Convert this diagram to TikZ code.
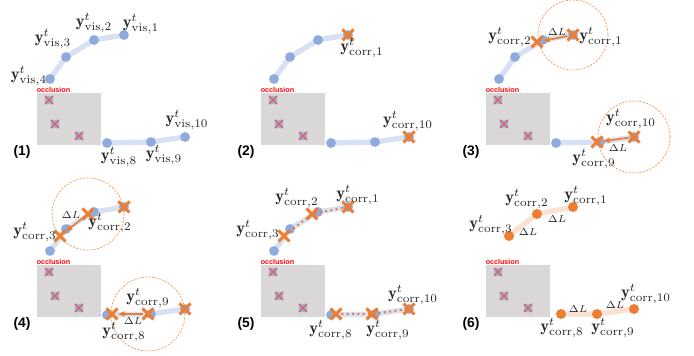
\documentclass[tikz,border=0pt]{standalone}
\usepackage{amsmath}
\usepackage{fontspec}
\setsansfont{Liberation Sans}
\usetikzlibrary{arrows.meta,calc,shapes.misc}
\definecolor{ptblue}{HTML}{8FAADC}
\definecolor{lnblue}{HTML}{D8E1F3}
\definecolor{corange}{HTML}{ED7D31}
\definecolor{lnorange}{HTML}{FBE2D0}
\definecolor{occgray}{HTML}{D9D7D8}
\definecolor{hidred}{HTML}{E05A5A}
\tikzset{%
  vdot/.style={circle,fill=ptblue,inner sep=0pt,minimum size=5.9pt},
  odot/.style={circle,fill=corange,inner sep=0pt,minimum size=6pt},
  hdot/.style={rectangle,rounded corners=1pt,fill=ptblue!75!occgray,inner sep=0pt,minimum size=5pt},
  hcross/.style={cross out,draw=hidred,line width=0.8pt,inner sep=0pt,minimum size=4pt},
  ocross/.style={cross out,draw=corange,line width=1.8pt,inner sep=0pt,minimum size=4.8pt},
  track/.style={draw=lnblue,line width=3.2pt,line cap=round},
  otrack/.style={draw=lnorange,line width=3.2pt,line cap=round},
  arrow/.style={-{Latex[length=1.5mm,width=1.3mm]},corange,line width=1pt},
  dotline/.style={corange,line width=1.2pt,dotted},
  reach/.style={corange!80,dash pattern=on 1.3pt off 0.8pt,line width=0.4pt},
  lbl/.style={inner sep=0pt,text=black!85},
  dl/.style={inner sep=0pt,font=\fontsize{6}{7}\selectfont,text=black!85},
  occtext/.style={inner sep=0pt,font=\sffamily\bfseries\fontsize{4.3}{5}\selectfont,text=red},
  panelno/.style={inner sep=0pt,font=\sffamily\bfseries\fontsize{8.3}{10}\selectfont}
}
\newcommand{\yvis}[1]{$\mathbf{y}^{t}_{\mathrm{vis},#1}$}
\newcommand{\ycorr}[1]{$\mathbf{y}^{t}_{\mathrm{corr},#1}$}

% positions, occluded area, hidden points and panel number
\newcommand{\occpanel}[2]{%
  \coordinate (#1v1) at (124,35);
  \coordinate (#1v2) at (94,40);
  \coordinate (#1v3) at (66,57);
  \coordinate (#1v4) at (50,79);
  \coordinate (#1v8) at (107,143);
  \coordinate (#1v9) at (151,142);
  \coordinate (#1v10) at (185,137);
  % corrected positions
  \coordinate (#1c2) at (88,42);
  \coordinate (#1c3) at (60,64);
  \coordinate (#1c8) at (112,142);
  \coordinate (#1c9) at (148,142);
  \fill[occgray] (37,93) rectangle (101,145);
  \node[occtext] (#1occ) at (53.5,89.5) {occlusion};
  \node[panelno] (#1no) at (22,152) {(#2)};
  \foreach \h/\hx/\hy in {5/49/100,6/55/124,7/79/136}{
    \node[hdot] (#1h\h) at (\hx,\hy) {};
    \node[hcross] (#1hx\h) at (#1h\h) {};
  }
}
% visible track in blue
\newcommand{\bluetrack}[1]{%
  \draw[track] (#1v4) -- (#1v3) -- (#1v2) -- (#1v1);
  \draw[track] (#1v8) -- (#1v9) -- (#1v10);
  \foreach \k in {1,2,3,4,8,9,10}{\node[vdot] (#1d\k) at (#1v\k) {};}
}

\begin{document}
\begin{tikzpicture}[x=0.6pt,y=-0.6pt]
\useasboundingbox (0,0) rectangle (694,356);

% (1) visible points
\begin{scope}
\occpanel{p1}{1}
\bluetrack{p1}
\node[lbl] (p1l1) at (141,24) {\yvis{1}};
\node[lbl] (p1l2) at (94,23) {\yvis{2}};
\node[lbl] (p1l3) at (53,39) {\yvis{3}};
\node[lbl] (p1l4) at (29,76) {\yvis{4}};
\node[lbl] (p1l8) at (119,157) {\yvis{8}};
\node[lbl] (p1l9) at (164,155) {\yvis{9}};
\node[lbl] (p1l10) at (187,120) {\yvis{10}};
\end{scope}

% (2) end points
\begin{scope}[shift={(224,0)}]
\occpanel{p2}{2}
\bluetrack{p2}
\node[ocross] (p2x1) at (p2v1) {};
\node[ocross] (p2x10) at (p2v10) {};
\node[lbl] (p2l1) at (138,48) {\ycorr{1}};
\node[lbl] (p2l10) at (184,121) {\ycorr{10}};
\end{scope}

% (3) first step
\begin{scope}[shift={(449,0)}]
\occpanel{p3}{3}
\bluetrack{p3}
\draw[reach] (p3v1) circle (35);
\draw[reach] (p3v10) circle (36);
\node[ocross] (p3x1) at (p3v1) {};
\node[ocross] (p3x2) at (p3c2) {};
\node[ocross] (p3x10) at (p3v10) {};
\node[ocross] (p3x9) at (p3c9) {};
\draw[arrow] (p3x1) -- (p3x2);
\draw[arrow] (p3x10) -- (p3x9);
\node[dl] (p3dl1) at (108,32) {$\Delta L$};
\node[dl] (p3dl2) at (169,148) {$\Delta L$};
\node[lbl] (p3l1) at (152,37) {\ycorr{1}};
\node[lbl] (p3l2) at (61,37) {\ycorr{2}};
\node[lbl] (p3l9) at (145,159) {\ycorr{9}};
\node[lbl] (p3l10) at (182,119) {\ycorr{10}};
\end{scope}

% (4) second step
\begin{scope}[shift={(0,172)}]
\occpanel{p4}{4}
\bluetrack{p4}
\draw[reach] (p4c2) circle (36);
\draw[reach] (p4c9) circle (37);
\node[ocross] (p4x1) at (p4v1) {};
\node[ocross] (p4x2) at (p4c2) {};
\node[ocross] (p4x3) at (p4c3) {};
\node[ocross] (p4x10) at (p4v10) {};
\node[ocross] (p4x9) at (p4c9) {};
\node[ocross] (p4x8) at (p4c8) {};
\draw[arrow] (p4x2) -- (p4x3);
\draw[arrow] (p4x9) -- (p4x8);
\node[dl] (p4dl1) at (71,43) {$\Delta L$};
\node[dl] (p4dl2) at (133,149) {$\Delta L$};
\node[lbl] (p4l3) at (35,60) {\ycorr{3}};
\node[lbl] (p4l2) at (110,51) {\ycorr{2}};
\node[lbl] (p4l9) at (148,126) {\ycorr{9}};
\node[lbl] (p4l8) at (124,160) {\ycorr{8}};
\end{scope}

% (5) corrected chain
\begin{scope}[shift={(224,172)}]
\occpanel{p5}{5}
\bluetrack{p5}
\draw[dotline] (p5v1) -- (p5c2) -- (p5c3);
\draw[dotline] (p5c8) -- (p5c9) -- (p5v10);
\node[ocross] (p5x1) at (p5v1) {};
\node[ocross] (p5x2) at (p5c2) {};
\node[ocross] (p5x3) at (p5c3) {};
\node[ocross] (p5x8) at (p5c8) {};
\node[ocross] (p5x9) at (p5c9) {};
\node[ocross] (p5x10) at (p5v10) {};
\node[lbl] (p5l1) at (134,23) {\ycorr{1}};
\node[lbl] (p5l2) at (73,26) {\ycorr{2}};
\node[lbl] (p5l3) at (34,58) {\ycorr{3}};
\node[lbl] (p5l8) at (107,158) {\ycorr{8}};
\node[lbl] (p5l9) at (164,158) {\ycorr{9}};
\node[lbl] (p5l10) at (189,123) {\ycorr{10}};
\end{scope}

% (6) result
\begin{scope}[shift={(449,172)}]
\occpanel{p6}{6}
\draw[otrack] (p6c3) -- (p6c2) -- (p6v1);
\draw[otrack] (p6c8) -- (p6c9) -- (p6v10);
\foreach \k in {c3,c2,v1,c8,c9,v10}{\node[odot] (p6o\k) at (p6\k) {};}
\node[dl] (p6dl1) at (108,47) {$\Delta L$};
\node[dl] (p6dl2) at (79,60) {$\Delta L$};
\node[dl] (p6dl3) at (129,137) {$\Delta L$};
\node[dl] (p6dl4) at (166,133) {$\Delta L$};
\node[lbl] (p6l1) at (137,24) {\ycorr{1}};
\node[lbl] (p6l2) at (78,27) {\ycorr{2}};
\node[lbl] (p6l3) at (42,53) {\ycorr{3}};
\node[lbl] (p6l8) at (113,156) {\ycorr{8}};
\node[lbl] (p6l9) at (164,156) {\ycorr{9}};
\node[lbl] (p6l10) at (197,122) {\ycorr{10}};
\end{scope}

\end{tikzpicture}
\end{document}
